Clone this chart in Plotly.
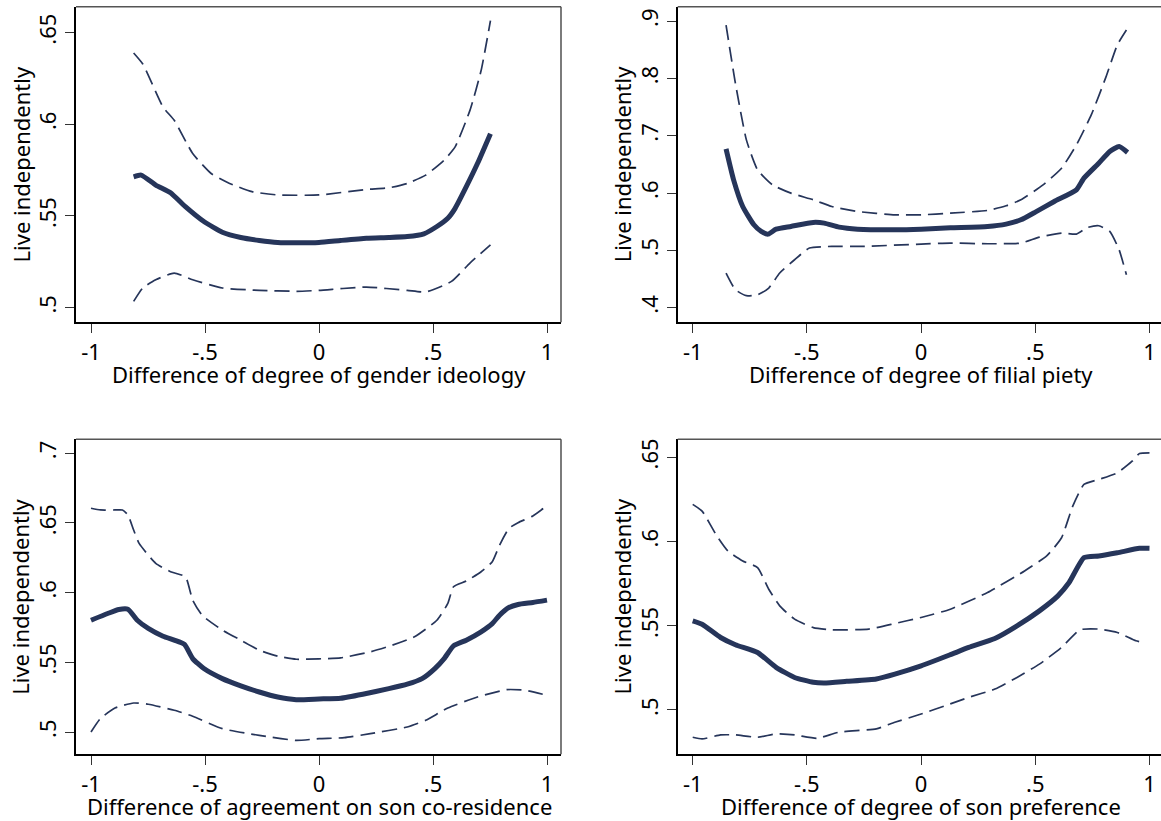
import plotly.graph_objects as go

# ---- panel 1: gender ideology ----
gi_x = [-0.813, -0.78, -0.716, -0.651, -0.586, -0.505, -0.424, -0.343, -0.262, -0.181, -0.1, 0,
        0.095, 0.208, 0.306, 0.387, 0.46, 0.517, 0.565, 0.597, 0.646, 0.695, 0.752]
gi_fit = [.5713, .5722, .5668, .5626, .555, .5469, .5411, .5382, .5366, .5355, .5353, .5355,
          .5366, .5378, .5382, .5387, .5402, .5442, .5487, .5541, .5659, .5785, .5948]
gi_hi_x = [-0.813, -0.773, -0.684, -0.635, -0.554, -0.473, -0.392, -0.294, -0.181, 0, 0.208,
           0.306, 0.387, 0.468, 0.549, 0.597, 0.662, 0.711, 0.752]
gi_hi = [.6388, .6328, .6093, .6021, .584, .5731, .5677, .5632, .5614, .5614, .5644,
         .5653, .5677, .5722, .5804, .5876, .6075, .6292, .6564]
gi_lo_x = [-0.813, -0.773, -0.716, -0.635, -0.554, -0.424, -0.262, -0.1, 0, 0.208, 0.387,
           0.468, 0.581, 0.662, 0.752]
gi_lo = [.5034, .5107, .5152, .5188, .5152, .5107, .5094, .5089, .5094, .5112, .5094,
         .5085, .5143, .5243, .5342]

# ---- panel 2: filial piety ----
fp_x = [-0.854, -0.821, -0.781, -0.732, -0.7, -0.67, -0.635, -0.57, -0.472, -0.424, -0.359,
        -0.278, -0.115, 0, 0.128, 0.291, 0.372, 0.437, 0.502, 0.583, 0.68, 0.713, 0.778,
        0.826, 0.867, 0.904]
fp_fit = [.677, .623, .5765, .5446, .533, .5283, .537, .5417, .5487, .5475, .5405,
          .537, .5359, .537, .5394, .5417, .5458, .5533, .5672, .5853, .6056, .6259, .652,
          .6724, .6811, .6707]
fp_hi_x = [-0.854, -0.813, -0.765, -0.716, -0.651, -0.57, -0.472, -0.391, -0.278, -0.115, 0,
           0.128, 0.291, 0.372, 0.437, 0.534, 0.615, 0.68, 0.745, 0.81, 0.859, 0.899]
fp_hi = [.893, .7914, .6927, .6404, .6143, .5998, .5882, .5765, .5678, .562, .562,
         .5649, .5696, .5777, .5882, .6143, .6433, .684, .7362, .803, .8582, .8843]
fp_lo_x = [-0.854, -0.813, -0.765, -0.716, -0.667, -0.619, -0.554, -0.489, -0.391, -0.261, 0,
           0.128, 0.291, 0.437, 0.518, 0.615, 0.68, 0.729, 0.778, 0.826, 0.867, 0.899]
fp_lo = [.4604, .4314, .4209, .4226, .4343, .4604, .4836, .504, .5069, .5069, .5109,
         .5127, .5115, .5127, .5231, .5301, .5283, .54, .5429, .533, .501, .4575]

# ---- panel 3: agreement on son co-residence ----
sc_x = [-1, -0.927, -0.878, -0.838, -0.797, -0.749, -0.684, -0.635, -0.59, -0.554, -0.505,
        -0.424, -0.343, -0.262, -0.181, -0.1, 0, 0.095, 0.192, 0.306, 0.387, 0.452, 0.508,
        0.549, 0.59, 0.646, 0.711, 0.76, 0.792, 0.833, 0.873, 0.938, 1]
sc_fit = [.5802, .585, .5879, .5881, .5802, .5743, .5687, .5659, .5628, .5527, .5455,
          .5383, .5331, .5287, .5251, .5232, .5237, .5242, .5271, .5311, .5343, .5383, .5455,
          .5527, .5618, .5659, .5719, .5778, .5838, .5893, .5915, .5929, .5946]
sc_hi_x = [-1, -0.959, -0.895, -0.862, -0.838, -0.813, -0.789, -0.716, -0.651, -0.586, -0.554,
           -0.513, -0.424, -0.343, -0.262, -0.181, -0.1, 0, 0.095, 0.225, 0.322, 0.419, 0.517,
           0.565, 0.59, 0.646, 0.711, 0.76, 0.792, 0.833, 0.873, 0.938, 1]
sc_hi = [.6605, .6593, .6593, .6593, .6557, .6449, .6353, .621, .615, .6114, .5946,
         .5838, .5731, .5659, .5587, .5544, .5522, .5525, .5532, .5575, .5623, .5683, .5802,
         .5922, .6042, .6083, .615, .6222, .6341, .6461, .6502, .655, .6624]
sc_lo_x = [-1, -0.959, -0.895, -0.813, -0.749, -0.635, -0.554, -0.424, -0.262, -0.1, 0,
           0.111, 0.225, 0.387, 0.468, 0.565, 0.695, 0.824, 0.906, 1]
sc_lo = [.5, .5096, .5172, .5208, .5199, .5156, .5113, .5024, .4976, .494, .4952,
         .4959, .4988, .5036, .5084, .5172, .5251, .5304, .5299, .5263]

# ---- panel 4: son preference ----
sp_x = [-1, -0.959, -0.878, -0.813, -0.716, -0.635, -0.554, -0.472, -0.424, -0.326, -0.196,
        -0.115, 0, 0.128, 0.209, 0.323, 0.42, 0.518, 0.599, 0.648, 0.713, 0.778, 0.859,
        0.956, 1]
sp_fit = [.5529, .5509, .543, .5387, .5341, .5253, .5193, .5164, .516, .517, .5184,
          .5213, .5262, .5328, .5371, .5424, .5499, .5588, .5677, .5756, .5904, .5914, .5933,
          .5959, .5959]
sp_hi_x = [-1, -0.959, -0.894, -0.846, -0.781, -0.716, -0.667, -0.619, -0.554, -0.472, -0.391,
           -0.229, -0.115, 0, 0.128, 0.291, 0.453, 0.55, 0.615, 0.664, 0.713, 0.778, 0.859,
           0.924, 0.956, 1]
sp_hi = [.622, .618, .6032, .5943, .5884, .5845, .5716, .5618, .5539, .5489, .5476,
         .548, .5513, .5549, .5598, .5697, .5825, .5914, .6022, .621, .6338, .6368, .6407,
         .6476, .6522, .6526]
sp_lo_x = [-1, -0.959, -0.878, -0.813, -0.716, -0.635, -0.554, -0.456, -0.359, -0.196, -0.115,
           0, 0.128, 0.209, 0.323, 0.42, 0.518, 0.615, 0.696, 0.778, 0.859, 0.94, 0.972]
sp_lo = [.4838, .4828, .4852, .4852, .4838, .4858, .4852, .4832, .4868, .4888, .4927,
         .4976, .5036, .5075, .5124, .5193, .5272, .5371, .5476, .548, .546, .5411, .5401]

x_ticks = [-1, -0.5, 0, 0.5, 1]
x_tick_text = ["-1", "-.5", "0", ".5", "1"]

x_titles = ["Difference of degree of gender ideology",
            "Difference of degree of filial piety",
            "Difference of agreement on son co-residence",
            "Difference of degree of son preference"]
y_title = "Live independently"

y_ticks = [
    ([.5, .55, .6, .65], [".5", ".55", ".6", ".65"]),
    ([.4, .5, .6, .7, .8, .9], [".4", ".5", ".6", ".7", ".8", ".9"]),
    ([.5, .55, .6, .65, .7], [".5", ".55", ".6", ".65", ".7"]),
    ([.5, .55, .6, .65], [".5", ".55", ".6", ".65"]),
]

panels = [
    (gi_x, gi_fit, gi_hi_x, gi_hi, gi_lo_x, gi_lo),
    (fp_x, fp_fit, fp_hi_x, fp_hi, fp_lo_x, fp_lo),
    (sc_x, sc_fit, sc_hi_x, sc_hi, sc_lo_x, sc_lo),
    (sp_x, sp_fit, sp_hi_x, sp_hi, sp_lo_x, sp_lo),
]

W, H = 1161, 821
NAVY = "#26355a"
FONT = "Noto Sans"
FS = 22

# plot-region boxes in pixels: left, right, top, bottom
boxes = [(76, 561, 6.7, 322.3), (677.7, 1161, 6.7, 322.3),
         (76, 561, 439.3, 754.3), (677.7, 1161, 439.3, 754.3)]
x_ranges = [(-1.0658, 1.0614), (-1.0657, 1.0504), (-1.0658, 1.0614), (-1.0657, 1.0504)]
y_ranges = [(.492, .664), (.3745, .925), (.484, .710), (.4737, .6606)]

fig = go.Figure()
layout = dict(width=W, height=H, margin=dict(l=0, r=0, t=0, b=0),
              paper_bgcolor="white", plot_bgcolor="white", showlegend=False,
              font=dict(family=FONT, size=FS, color="black"))
annotations = []
shapes = []

for i, (px, fit, hx, hi, lx, lo) in enumerate(panels):
    n = "" if i == 0 else str(i + 1)
    xa, ya = "x" + n, "y" + n
    l, r, t, b = boxes[i]
    for xs, ys, w, dash in [(hx, hi, 1.7, "15px,7px"), (lx, lo, 1.7, "15px,7px"),
                            (px, fit, 5, "solid")]:
        fig.add_trace(go.Scatter(x=xs, y=ys, mode="lines", xaxis=xa, yaxis=ya,
                                 line=dict(color=NAVY, width=w, dash=dash,
                                           shape="spline", smoothing=0.5),
                                 hoverinfo="skip"))
    layout["xaxis" + n] = dict(domain=[l / W, r / W], anchor=ya, range=list(x_ranges[i]),
                               tickvals=x_ticks, ticktext=x_tick_text, ticks="outside",
                               ticklen=9, tickwidth=1.3, tickcolor="#333",
                               showline=True, linecolor="black", linewidth=1.6,
                               showgrid=False, zeroline=False, ticklabelstandoff=0,
                               tickfont=dict(size=FS))
    tv, tt = y_ticks[i]
    layout["yaxis" + n] = dict(domain=[1 - b / H, 1 - t / H], anchor=xa, range=list(y_ranges[i]),
                               tickvals=tv, ticktext=tt, ticks="outside", tickangle=-90,
                               ticklen=9, tickwidth=1.3, tickcolor="#333",
                               showline=True, linecolor="black", linewidth=1.6,
                               showgrid=False, zeroline=False, ticklabelstandoff=0,
                               tickfont=dict(size=FS))
    # top and right frame edges in a lighter grey
    shapes.append(dict(type="line", xref=xa + " domain", yref=ya + " domain",
                       x0=0, x1=1, y0=1, y1=1, line=dict(color="#555", width=1.4)))
    if r < W:
        shapes.append(dict(type="line", xref=xa + " domain", yref=ya + " domain",
                           x0=1, x1=1, y0=0, y1=1, line=dict(color="#444", width=1.4)))
    annotations.append(dict(text=x_titles[i], xref=xa, yref="paper", x=0,
                            y=1 - (b + 52) / H, xanchor="center", yanchor="middle",
                            showarrow=False, font=dict(size=FS)))
    annotations.append(dict(text=y_title, xref="paper", yref="paper", x=(l - 56) / W,
                            y=1 - (t + b) / 2 / H, xanchor="center", yanchor="middle",
                            textangle=-90, showarrow=False, font=dict(size=FS)))

layout["annotations"] = annotations
layout["shapes"] = shapes
fig.update_layout(**layout)
fig.write_html("out.html")
